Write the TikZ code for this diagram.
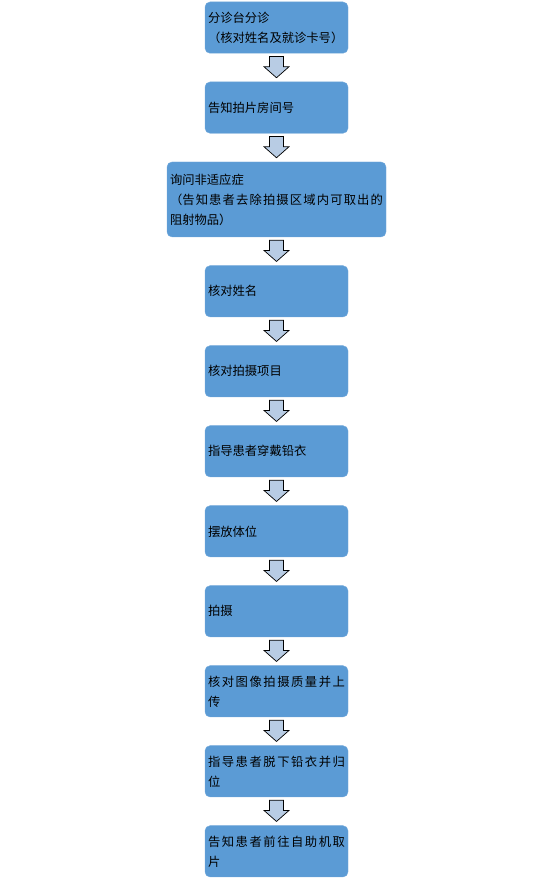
\documentclass[tikz,border=0pt]{standalone}
\usepackage{fontspec}
\setmainfont{Noto Sans CJK SC}
\usetikzlibrary{positioning,calc}
\XeTeXlinebreaklocale "zh"
\XeTeXlinebreakskip = 0pt plus 3pt
\definecolor{bleu}{HTML}{5B9BD5}
\definecolor{bleuclair}{HTML}{B8CCE4}
\tikzset{
  etape/.style={draw=bleu!85!white, fill=bleu, rounded corners=5pt,
    text width=137pt, inner sep=3pt, minimum height=51.3pt,
    align=justify, font=\fontsize{12.3}{20}\selectfont},
  fleche/.style={draw=black, fill=bleuclair, line width=0.7pt}
}

\begin{document}
\begin{tikzpicture}[x=1pt, y=1pt, node distance=28.3pt]
    \useasboundingbox (0,0) rectangle (554,-880);

    % Etapes
    \node[etape] (b1) at (276.5,-27.6) {分诊台分诊\\（核对姓名及就诊卡号）};
    \node[etape, below=of b1] (b2) {告知拍片房间号};
    \node[etape, below=of b2, text width=213pt, minimum height=75pt] (b3)
        {询问非适应症\\（告知患者去除拍摄区域内可取出的\linebreak 阻射物品）};
    \node[etape, below=of b3] (b4) {核对姓名};
    \node[etape, below=of b4] (b5) {核对拍摄项目};
    \node[etape, below=of b5] (b6) {指导患者穿戴铅衣};
    \node[etape, below=of b6] (b7) {摆放体位};
    \node[etape, below=of b7] (b8) {拍摄};
    \node[etape, below=of b8] (b9) {核对图像拍摄质量并上\linebreak 传};
    \node[etape, below=of b9] (b10) {指导患者脱下铅衣并归\linebreak 位};
    \node[etape, below=of b10] (b11) {告知患者前往自助机取\linebreak 片};

    % Fleches
    \foreach \i/\j in {1/2,2/3,3/4,4/5,5/6,6/7,7/8,8/9,9/10,10/11}{
        \coordinate (h\i) at ($(b\i.south)+(0,-3)$);
        \coordinate (p\i) at ($(b\j.north)+(0,4)$);
        \draw[fleche] ($(h\i)+(-7,0)$) -- ($(h\i)+(7,0)$) -- ($(p\i)+(7,11)$)
            -- ($(p\i)+(12.5,11)$) -- (p\i) -- ($(p\i)+(-12.5,11)$)
            -- ($(p\i)+(-7,11)$) -- cycle;
    }
\end{tikzpicture}
\end{document}
